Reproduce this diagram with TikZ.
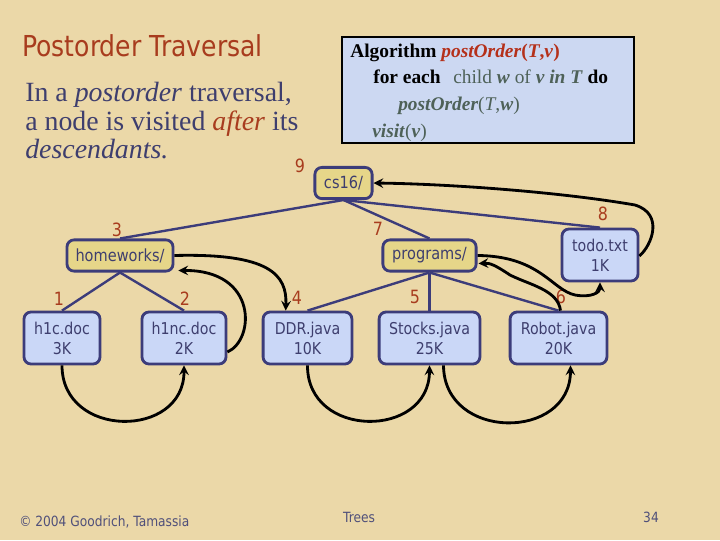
\documentclass[tikz,border=0pt]{standalone}
\usepackage{amsmath, amssymb}
\usepackage{xcolor}
\usepackage{fontspec}
\setmainfont{Liberation Serif}
\newfontfamily\tahoma[FakeStretch=0.87]{DejaVu Sans}
\usepackage{tikz}
\usetikzlibrary{calc, shapes.geometric, positioning}

\definecolor{giay}{HTML}{EBD8A8}
\definecolor{tieude}{HTML}{A83C1E}
\definecolor{chuxanh}{HTML}{3E3E6E}
\definecolor{vien}{HTML}{3C3C7A}
\definecolor{nenthumuc}{HTML}{E6D689}
\definecolor{nentep}{HTML}{CAD7F7}
\definecolor{nenthuattoan}{HTML}{CCD8F2}
\definecolor{xamluc}{HTML}{4E6158}
\definecolor{dothuattoan}{HTML}{B5301A}
\definecolor{chuchan}{HTML}{50507A}

\begin{document}
\begin{tikzpicture}[>=stealth, x=0.025cm, y=-0.025cm,
    thumuc/.style={draw=vien, line width=2pt, fill=nenthumuc, rounded corners=5pt,
        text=chuxanh, font=\tahoma\fontsize{11.9}{14.2}\selectfont,
        minimum height=0.78cm, inner sep=0pt},
    tep/.style={draw=vien, line width=2pt, fill=nentep, rounded corners=5pt,
        text=chuxanh, font=\tahoma\fontsize{11.6}{14.2}\selectfont,
        align=center, minimum height=1.3cm, inner sep=0pt},
    canh/.style={draw=vien, line width=1.7pt},
    duyet/.style={draw=black, line width=2pt, ->},
    so/.style={text=tieude, font=\tahoma\fontsize{13}{15}\selectfont},
    chu/.style={anchor=base west, inner sep=0pt},
    dongtt/.style={chu, font=\fontsize{13.8}{16}\selectfont},
    chuchanh/.style={inner sep=0pt, text=chuchan, font=\tahoma\fontsize{10}{12}\selectfont}]

    % Nền giấy và khung hình
    \useasboundingbox (0,0) rectangle (720,540);
    \fill[giay] (0,0) rectangle (720,540);

    % Tiêu đề và lời giải thích
    \node[chu, text=tieude, font=\tahoma\fontsize{20.5}{24}\selectfont]
        (tde) at (22,56) {Postorder Traversal};
    \node[chu, text=chuxanh, font=\fontsize{19.8}{22}\selectfont]
        (dong1) at (25,101) {In a \textit{postorder} traversal,};
    \node[chu, text=chuxanh, font=\fontsize{19.8}{22}\selectfont]
        (dong2) at (25,130) {a node is visited \textcolor{tieude}{\textit{after}} its};
    \node[chu, text=chuxanh, font=\fontsize{19.8}{22}\selectfont]
        (dong3) at (25,158) {\textit{descendants.}};

    % Khung thuật toán
    \node[draw=black, line width=1pt, fill=nenthuattoan, minimum width=7.3cm,
        minimum height=2.65cm] (thuattoan) at (488,90) {};
    \node[dongtt] (tt1) at (350,57)
        {\textbf{Algorithm} \textcolor{dothuattoan}{\textbf{\textit{postOrder}(\textit{T},\textit{v})}}};
    \node[dongtt] (tt2) at (373,83.7)
        {\textbf{for each}\hspace{0.4em} \textcolor{xamluc}{child \textbf{\textit{w}} of \textbf{\textit{v in T}}} \textbf{do}};
    \node[dongtt, text=xamluc] (tt3) at (398,110.3)
        {\textbf{\textit{postOrder}}(\textit{T},\textbf{\textit{w}})};
    \node[dongtt, text=xamluc] (tt4) at (372,137)
        {\textbf{\textit{visit}}(\textbf{\textit{v}})};

    % Các nút thư mục và tệp
    \node[thumuc, minimum width=1.43cm] (cs16) at (343.5,183) {cs16/};
    \node[thumuc, minimum width=2.65cm] (homeworks) at (120,255.5) {homeworks/};
    \node[thumuc, minimum width=2.33cm] (programs) at (429.5,255.5) {programs/};
    \node[tep, minimum width=1.9cm] (todo) at (600,255) {todo.txt\\1K};
    \node[tep, minimum width=1.9cm] (h1c) at (62,338) {h1c.doc\\3K};
    \node[tep, minimum width=2.1cm] (h1nc) at (184,338) {h1nc.doc\\2K};
    \node[tep, minimum width=2.22cm] (DDR) at (307.5,338) {DDR.java\\10K};
    \node[tep, minimum width=2.52cm] (Stocks) at (429.5,338) {Stocks.java\\25K};
    \node[tep, minimum width=2.42cm] (Robot) at (558.5,338) {Robot.java\\20K};

    % Các cạnh của cây
    \draw[canh] (cs16.south) -- (homeworks.north);
    \draw[canh] (cs16.south) -- (programs.north);
    \draw[canh] (cs16.south) -- (todo.north);
    \draw[canh] (homeworks.south) -- (h1c.north);
    \draw[canh] (homeworks.south) -- (h1nc.north);
    \draw[canh] (programs.south) -- (DDR.north);
    \draw[canh] (programs.south) -- (Stocks.north);
    \draw[canh] (programs.south) -- (Robot.north);

    % Thứ tự thăm các nút
    \node[so] (s1) at (59,299) {1};
    \node[so] (s2) at (185,299) {2};
    \node[so] (s3) at (117,230) {3};
    \node[so] (s4) at (297,298) {4};
    \node[so] (s5) at (415,297) {5};
    \node[so] (s6) at (561,297) {6};
    \node[so] (s7) at (378,229) {7};
    \node[so] (s8) at (603,214) {8};
    \node[so] (s9) at (300,166) {9};

    % Đường duyệt hậu thứ tự
    \draw[duyet] (h1c.south) .. controls (62,439) and (184,439) .. (h1nc.south);
    \draw[duyet] ($(h1nc.east)+(0,14)$) .. controls (255,340) and (258,270)
        .. ($(homeworks.south east)+(4,-2)$);
    \draw[duyet] (homeworks.east) .. controls (270,253) and (287,275)
        .. ($(DDR.north west)+(24,0)$);
    \draw[duyet] (DDR.south) .. controls (307,439) and (429,439) .. (Stocks.south);
    \draw[duyet] ($(Stocks.south)+(14,0)$) .. controls (444,441) and (570,441)
        .. ($(Robot.south)+(12,0)$);
    \draw[duyet] ($(Robot.north)+(2,0)$) .. controls (558,290) and (530,285) .. (510,275)
        .. controls (495,265) and (490,263) .. ($(programs.east)+(1,8)$);
    \draw[duyet] (programs.east) .. controls (540,256) and (552,290) .. (575,295)
        .. controls (592,298) and (600,292) .. (todo.south);
    \draw[duyet] ($(todo.east)+(0,1)$) .. controls (652,245) and (664,214) .. (635,205)
        .. controls (560,192) and (450,184) .. (cs16.east);

    % Chân trang
    \node[chuchanh, anchor=base west] (banquyen) at (19,526) {© 2004 Goodrich, Tamassia};
    \node[chuchanh, anchor=base] (chude) at (359,522) {Trees};
    \node[chuchanh, anchor=base] (trang) at (651,522) {34};
\end{tikzpicture}
\end{document}
